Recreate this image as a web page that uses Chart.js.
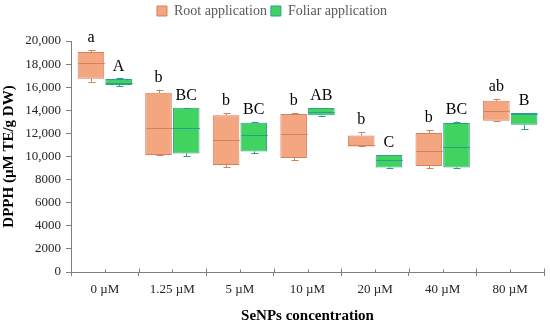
<!DOCTYPE html>
<html>
<head>
<meta charset="utf-8">
<script src="https://cdn.jsdelivr.net/npm/chart.js@4/dist/chart.umd.min.js"></script>
<style>
  html, body { margin: 0; padding: 0; background: #fff; }
  #wrap { width: 550px; height: 325px; }
</style>
</head>
<body>
<div id="wrap"><canvas id="chart"></canvas></div>
<script>
// categories and box statistics
const categories = ["0 \u00b5M", "1.25 \u00b5M", "5 \u00b5M", "10 \u00b5M", "20 \u00b5M", "40 \u00b5M", "80 \u00b5M"];

const rootMin    = [16480, 10100,  9100,  9700, 10870,  8980, 13090];
const rootQ1     = [16740, 10130,  9270,  9870, 10870,  9180, 13090];
const rootMedian = [18100, 12460, 11430, 11970, 11000, 10500, 13930];
const rootQ3     = [19050, 15510, 13580, 13670, 11820, 12030, 14820];
const rootMax    = [19220, 15790, 13760, 13760, 12120, 12290, 14960];

const foliarMin    = [16090, 10010, 10300, 13500,  9000,  9000, 12380];
const foliarQ1     = [16200, 10270, 10440, 13580,  9040,  9040, 12750];
const foliarMedian = [16400, 12460, 11820, 13890,  9700, 10790, 13700];
const foliarQ3     = [16720, 14210, 12920, 14190, 10130, 12890, 13760];
const foliarMax    = [16760, 14210, 13030, 14190, 10130, 13030, 13760];

const rootLetters   = ["a", "b", "b", "b", "b", "b", "ab"];
const foliarLetters = ["A", "BC", "BC", "AB", "C", "BC", "B"];

const yTicks = [0, 2000, 4000, 6000, 8000, 10000, 12000, 14000, 16000, 18000, 20000];

const stats = [
    { min: rootMin, q1: rootQ1, med: rootMedian, q3: rootQ3, max: rootMax, letters: rootLetters },
    { min: foliarMin, q1: foliarQ1, med: foliarMedian, q3: foliarQ3, max: foliarMax, letters: foliarLetters }
];

const serif = "'Liberation Serif', 'Times New Roman', serif";

// leave some room between the legend and the plot
const legendGap = {
    id: "legendGap",
    beforeInit(chart) {
        const fit = chart.legend.fit;
        chart.legend.fit = function () {
            fit.call(this);
            this.height += 13;
        };
    }
};

// whiskers, medians and letters drawn on top of the floating bars
const boxPlotPlugin = {
    id: "boxPlot",
    afterDatasetsDraw(chart) {
        const ctx = chart.ctx;
        const y = chart.scales.y;
        ctx.save();
        stats.forEach((s, i) => {
            const meta = chart.getDatasetMeta(i);
            const color = chart.data.datasets[i].borderColor;
            meta.data.forEach((bar, j) => {
                const x = Math.round(bar.x) + 0.5;
                const half = bar.width / 2;
                const yMin = y.getPixelForValue(s.min[j]);
                const yQ1 = y.getPixelForValue(s.q1[j]);
                const yMed = Math.round(y.getPixelForValue(s.med[j])) + 0.5;
                const yQ3 = y.getPixelForValue(s.q3[j]);
                const yMax = y.getPixelForValue(s.max[j]);
                ctx.strokeStyle = color;
                ctx.lineWidth = 1;
                ctx.beginPath();
                // median
                ctx.moveTo(x - half, yMed);
                ctx.lineTo(x + half, yMed);
                // whiskers
                ctx.moveTo(x, yQ3);
                ctx.lineTo(x, yMax);
                ctx.moveTo(x - 3, Math.round(yMax) + 0.5);
                ctx.lineTo(x + 4, Math.round(yMax) + 0.5);
                ctx.moveTo(x, yQ1);
                ctx.lineTo(x, yMin);
                ctx.moveTo(x - 3, Math.round(yMin) + 0.5);
                ctx.lineTo(x + 4, Math.round(yMin) + 0.5);
                ctx.stroke();
                // significance letters
                ctx.fillStyle = "#000";
                ctx.font = "16px " + serif;
                ctx.textAlign = "center";
                ctx.textBaseline = "bottom";
                ctx.fillText(s.letters[j], bar.x, yMax - 4);
            });
        });
        // small ticks on the x axis line
        const xs = chart.scales.x;
        const base = Math.round(y.getPixelForValue(0)) + 0.5;
        ctx.strokeStyle = "#7f7f7f";
        ctx.beginPath();
        for (let k = 0; k < categories.length; k++) {
            const cx = Math.round(xs.getPixelForValue(k)) + 0.5;
            ctx.moveTo(cx, base);
            ctx.lineTo(cx, base - 3);
            const bx = Math.round(xs.getPixelForValue(k + 0.5)) + 0.5;
            ctx.moveTo(bx, base);
            ctx.lineTo(bx, base - 4);
        }
        const bx0 = Math.round(xs.getPixelForValue(-0.5)) + 0.5;
        ctx.moveTo(bx0, base);
        ctx.lineTo(bx0, base - 4);
        ctx.stroke();
        ctx.restore();
    }
};

new Chart(document.getElementById("chart"), {
    type: "bar",
    data: {
        labels: categories,
        datasets: [
            {
                label: "Root application",
                data: rootQ1.map((v, i) => [v, rootQ3[i]]),
                backgroundColor: "#f4a680",
                borderColor: "#d3825c",
                borderWidth: 1,
                borderSkipped: false
            },
            {
                label: "Foliar application",
                data: foliarQ1.map((v, i) => [v, foliarQ3[i]]),
                backgroundColor: "#41d35f",
                borderColor: "#2a9f8e",
                borderWidth: 1,
                borderSkipped: false
            }
        ]
    },
    options: {
        responsive: true,
        maintainAspectRatio: false,
        animation: false,
        categoryPercentage: 0.82,
        barPercentage: 0.96,
        layout: { padding: { top: 0, right: 6, left: 0, bottom: 0 } },
        plugins: {
            tooltip: { enabled: false },
            legend: {
                position: "top",
                labels: {
                    boxWidth: 10,
                    boxHeight: 10,
                    padding: 4,
                    color: "#595959",
                    font: { family: serif, size: 14 }
                }
            }
        },
        scales: {
            x: {
                grid: { display: true, drawOnChartArea: false, tickLength: 4, color: "#7f7f7f" },
                border: { color: "#7f7f7f" },
                ticks: { color: "#262626", padding: 6, font: { family: serif, size: 13 } },
                title: {
                    display: true,
                    text: "SeNPs concentration",
                    color: "#000",
                    padding: { top: 6, bottom: 0 },
                    font: { family: serif, size: 15, weight: "bold" }
                },
                afterFit: s => { s.height = 53; }
            },
            y: {
                min: 0,
                max: 20000,
                grid: { display: true, drawOnChartArea: false, tickLength: 5, color: "#7f7f7f" },
                border: { color: "#7f7f7f" },
                afterBuildTicks: s => { s.ticks = yTicks.map(v => ({ value: v })); },
                ticks: {
                    color: "#262626",
                    padding: 5,
                    font: { family: serif, size: 13 },
                    callback: v => v >= 10000 ? v.toLocaleString("en-US") : String(v)
                },
                title: {
                    display: true,
                    text: "DPPH (\u00b5M TE/g DW)",
                    color: "#000",
                    padding: { top: 0, bottom: 4 },
                    font: { family: serif, size: 15, weight: "bold" }
                },
                afterFit: s => { s.width = 71; }
            }
        }
    },
    plugins: [legendGap, boxPlotPlugin]
});
</script>
</body>
</html>
